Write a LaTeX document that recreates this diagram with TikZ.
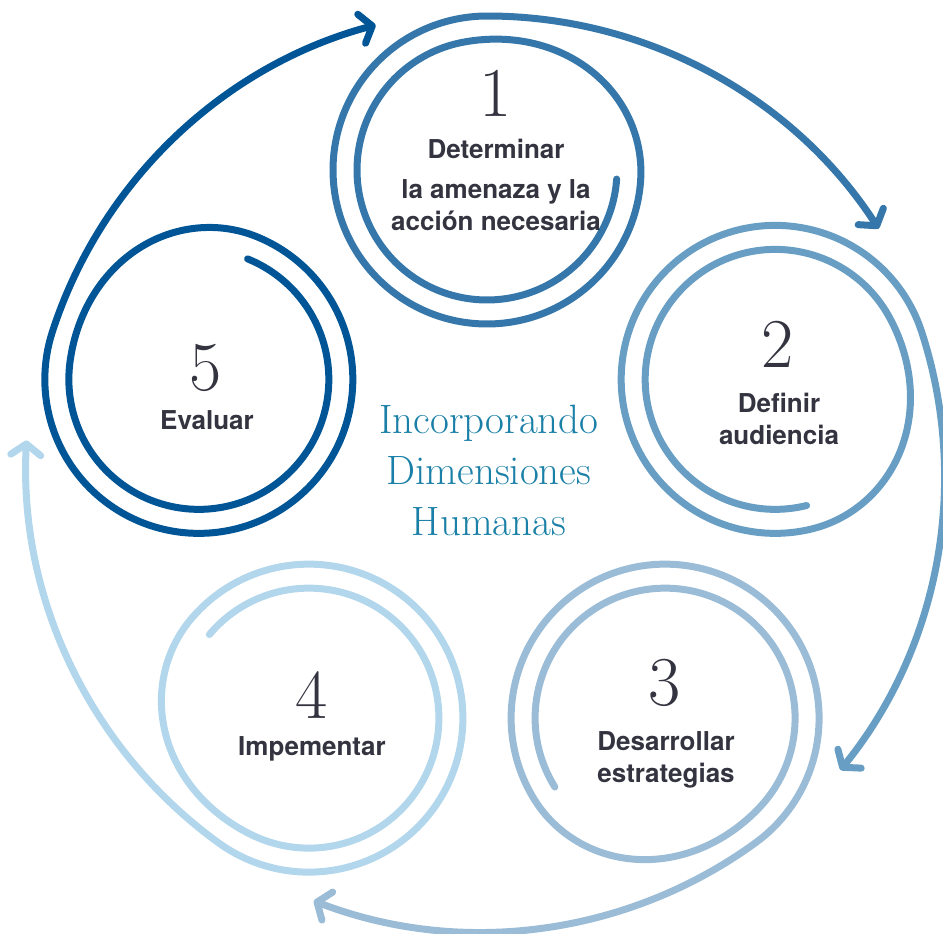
\documentclass[tikz,border=0pt]{standalone}
\usepackage{fontspec}
\setsansfont{TeX Gyre Heros}
\usetikzlibrary{arrows.meta}

\definecolor{stepone}{HTML}{3577AA}
\definecolor{steptwo}{HTML}{689EC4}
\definecolor{stepthree}{HTML}{9BBCD6}
\definecolor{stepfour}{HTML}{B2D6EB}
\definecolor{stepfive}{HTML}{005596}
\definecolor{labelgray}{HTML}{33343F}
\definecolor{hubteal}{HTML}{1B80A7}

\tikzset{
  ring/.style={line width=7pt, line cap=round, line join=round,
    -{Straight Barb[length=11pt, width=30pt, round]}},
  stepnum/.style={font=\fontsize{70}{70}\selectfont, text=labelgray, anchor=base},
  steptext/.style={font=\sffamily\bfseries\fontsize{26}{32}\selectfont, text=labelgray, align=center, anchor=base},
  hubtext/.style={font=\fontsize{41}{51}\selectfont, text=hubteal, align=center, anchor=base}
}

\begin{document}
\begin{tikzpicture}[x=1pt, y=1pt]
    \useasboundingbox (0,0) rectangle (943,-934);
    \coordinate (hub) at (487,-473);
    % spiral per step, the outer turn runs on into the arrow to the next step
    \foreach \ang/\col in {90/stepone, 18/steptwo, -54/stepthree, -126/stepfour, 162/stepfive}{
        \begin{scope}[shift={(hub)}, shift={(\ang:303)}]
            \draw[ring, \col] plot[domain=0:626, samples=180, smooth]
                ({\ang-94-\x}:{130+12*(1-cos(180*min(max((\x-255)/105,0),1)))})
                arc[start angle=\ang, end angle=\ang-57, radius=467];
        \end{scope}
    }
    % numbers and step names (base = last line)
    \node [stepnum] (n1) at (496,-117) {1};
    \node [steptext] (t1) at (496,-158) {Determinar};
    \node [steptext] (t1b) at (496,-230) {la amenaza y la\\acción necesaria};
    \node [stepnum] (n2) at (778,-367) {2};
    \node [steptext] (t2) at (779,-444) {Definir\\audiencia};
    \node [stepnum] (n3) at (665,-705) {3};
    \node [steptext] (t3) at (666,-782) {Desarrollar\\estrategias};
    \node [stepnum] (n4) at (312,-718) {4};
    \node [steptext] (t4) at (312,-755) {Impementar};
    \node [stepnum] (n5) at (206,-390) {5};
    \node [steptext] (t5) at (207,-429) {Evaluar};
    \node [hubtext] (title) at (489,-535) {Incorporando\\Dimensiones\\Humanas};
\end{tikzpicture}
\end{document}
